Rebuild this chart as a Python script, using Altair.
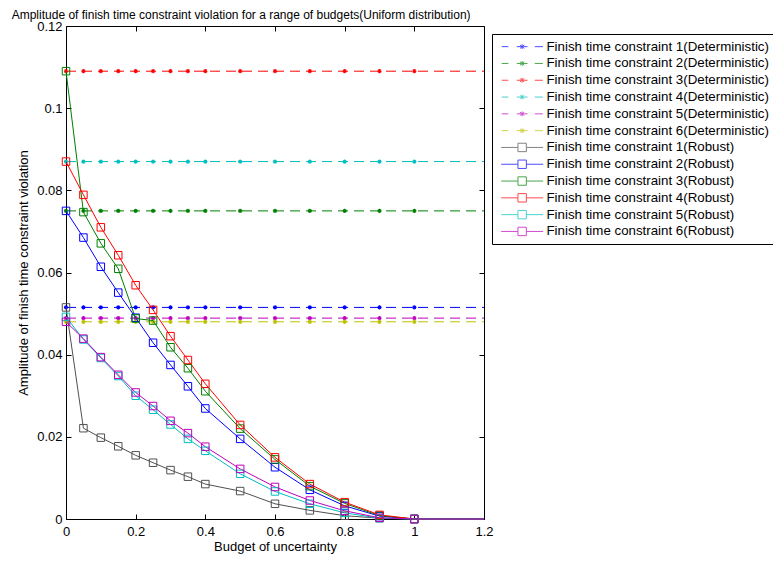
import altair as alt
import pandas as pd

FONT = "Liberation Sans"

# ---------------- data ----------------
budget = [0, 0.05, 0.1, 0.15, 0.2, 0.25, 0.3, 0.35, 0.4, 0.5, 0.6, 0.7, 0.8, 0.9, 1.0]
budget_end = 1.2

det_names = [f"Finish time constraint {i}(Deterministic)" for i in range(1, 7)]
det_values = [0.0515, 0.0750, 0.1090, 0.0870, 0.0489, 0.0480]

rob_names = [f"Finish time constraint {i}(Robust)" for i in range(1, 7)]
robust_1 = [0.0515, 0.0221, 0.0198, 0.0177, 0.0155, 0.0137, 0.0119, 0.0103, 0.0085, 0.0068, 0.0037, 0.0021, 0.0008, 0.0002, 0.0]
robust_2 = [0.0750, 0.0685, 0.0614, 0.0551, 0.0490, 0.0429, 0.0375, 0.0323, 0.0269, 0.0195, 0.0126, 0.0071, 0.0032, 0.0007, 0.0]
robust_3 = [0.1090, 0.0747, 0.0671, 0.0609, 0.0488, 0.0483, 0.0418, 0.0367, 0.0311, 0.0220, 0.0145, 0.0080, 0.0038, 0.0008, 0.0]
robust_4 = [0.0870, 0.0789, 0.0710, 0.0642, 0.0569, 0.0509, 0.0445, 0.0387, 0.0329, 0.0229, 0.0150, 0.0085, 0.0041, 0.0010, 0.0]
robust_5 = [0.0492, 0.0437, 0.0392, 0.0348, 0.0300, 0.0266, 0.0230, 0.0195, 0.0166, 0.0110, 0.0067, 0.0037, 0.0015, 0.0002, 0.0]
robust_6 = [0.0480, 0.0439, 0.0394, 0.0351, 0.0308, 0.0275, 0.0239, 0.0209, 0.0176, 0.0122, 0.0078, 0.0045, 0.0020, 0.0003, 0.0]
robust_values = [robust_1, robust_2, robust_3, robust_4, robust_5, robust_6]

det_colors = ["#0000ff", "#008000", "#ff0000", "#00bfbf", "#bf00bf", "#bfbf00"]
rob_colors = ["#505050", "#0000ff", "#008000", "#ff0000", "#00bfbf", "#bf00bf"]

x_ticks = [0, 0.2, 0.4, 0.6, 0.8, 1.0, 1.2]
y_ticks = [0, 0.02, 0.04, 0.06, 0.08, 0.1, 0.12]

# ---------------- tables ----------------
det_pts = pd.DataFrame([(n, b, v) for n, v in zip(det_names, det_values) for b in budget],
                       columns=["series", "budget", "value"])
det_line = pd.DataFrame([(n, b, v) for n, v in zip(det_names, det_values) for b in budget + [budget_end]],
                        columns=["series", "budget", "value"])
rob_pts = pd.DataFrame([(n, b, v) for n, vals in zip(rob_names, robust_values) for b, v in zip(budget, vals)],
                       columns=["series", "budget", "value"])
rob_line = pd.DataFrame([(n, b, v) for n, vals in zip(rob_names, robust_values)
                         for b, v in zip(budget + [budget_end], vals + [0.0])],
                        columns=["series", "budget", "value"])
# legend carrier: every series at the common end point (1.0, 0), drawn tiny
legend_df = pd.DataFrame({"series": det_names + rob_names,
                          "budget": [budget[-1]] * 12,
                          "value": [0.0] * 12})

all_names = det_names + rob_names
all_colors = det_colors + rob_colors

W, H = 418, 493

ASTER = "M-1,0H1M0,-1V1M-0.7,-0.7L0.7,0.7M-0.7,0.7L0.7,-0.7"
LEG_DET = "M-3.4,0H-2.3M-0.9,0H0.9M2.1,0H3.45M0,-0.4V0.4M-0.35,-0.28L0.35,0.28M-0.35,0.28L0.35,-0.28"
LEG_ROB = "M-3.5,0H-0.7M0.7,0H3.5M-0.7,-0.7H0.7V0.7H-0.7Z"
legend_shapes = [LEG_DET] * 6 + [LEG_ROB] * 6

x_scale = alt.Scale(domain=[0, 1.2], nice=False, zero=False)
y_scale = alt.Scale(domain=[0, 0.12], nice=False, zero=False)
# plotted strokes: same mapping, listed in reverse order (keeps this scale separate from the legend's)
stroke_scale = alt.Scale(domain=all_names[::-1], range=all_colors[::-1])

def tick_axis(orient, offset, values):
    return alt.Axis(orient=orient, offset=offset, values=values, labels=False, ticks=True,
                    tickSize=5, tickColor="black", domain=False, grid=False, title=None)

axis_bottom = alt.Axis(orient="bottom", values=x_ticks, format=".1~f", tickSize=0, labelPadding=6,
                       labelFlush=False, labelOverlap=False, domain=False, grid=False,
                       title="Budget of uncertainty", titlePadding=2)
axis_left = alt.Axis(orient="left", values=y_ticks, format=".2~f", tickSize=0, labelPadding=4,
                     labelOverlap=False, domain=False, grid=False,
                     title="Amplitude of finish time constraint violation", titlePadding=6)

stroke_enc = alt.Stroke("series:N", scale=stroke_scale, legend=None)

det_lines = alt.Chart(det_line).mark_line(strokeDash=[10, 6], strokeWidth=1).encode(
    x=alt.X("budget:Q", scale=x_scale, axis=axis_bottom),
    y=alt.Y("value:Q", scale=y_scale, axis=axis_left),
    stroke=stroke_enc,
)

det_points = alt.Chart(det_pts).mark_point(shape=ASTER, size=18, filled=False, strokeWidth=1.1, opacity=1).encode(
    x=alt.X("budget:Q", scale=x_scale, axis=tick_axis("top", -H, x_ticks)),
    y=alt.Y("value:Q", scale=y_scale, axis=tick_axis("right", -W, y_ticks)),
    stroke=stroke_enc,
)

rob_lines = alt.Chart(rob_line).mark_line(strokeWidth=1).encode(
    x=alt.X("budget:Q", scale=x_scale, axis=tick_axis("bottom", -H, x_ticks)),
    y=alt.Y("value:Q", scale=y_scale, axis=tick_axis("left", -W, y_ticks)),
    stroke=stroke_enc,
)

rob_points = alt.Chart(rob_pts).mark_point(shape="square", size=56, filled=False, strokeWidth=1, opacity=1).encode(
    x=alt.X("budget:Q", scale=x_scale, axis=None),
    y=alt.Y("value:Q", scale=y_scale, axis=None),
    stroke=stroke_enc,
)

leg = alt.Legend(orient="none", legendX=426, legendY=8, title=None, strokeColor="black",
                 fillColor="white", padding=6, symbolSize=144, symbolStrokeWidth=1,
                 symbolOffset=17.5, labelOffset=17.7, rowPadding=2.8, labelFontSize=13.3,
                 labelLimit=400, labelColor="black", cornerRadius=0)

legend_layer = alt.Chart(legend_df).mark_point(filled=False, size=1, strokeWidth=1).encode(
    x=alt.X("budget:Q", scale=x_scale, axis=None),
    y=alt.Y("value:Q", scale=y_scale, axis=None),
    color=alt.Color("series:N", scale=alt.Scale(domain=all_names, range=all_colors), legend=leg),
    shape=alt.Shape("series:N", scale=alt.Scale(domain=all_names, range=legend_shapes), legend=leg),
)

chart = alt.layer(det_lines, det_points, rob_lines, rob_points, legend_layer).resolve_axis(
    x="independent", y="independent"
).properties(
    width=W, height=H,
    autosize=alt.AutoSizeParams(type="none"),
    padding={"left": 58, "top": 18, "right": 289, "bottom": 35},
    title=alt.TitleParams(
        text="Amplitude of finish time constraint violation for a range of budgets(Uniform distribution)",
        anchor="start", dx=-6, dy=14, fontSize=12, fontWeight="normal", baseline="alphabetic",
        offset=3, font=FONT, color="black"),
).configure_view(stroke="black", strokeWidth=1).configure_axis(
    labelFont=FONT, titleFont=FONT, labelFontSize=13, titleFontSize=13,
    titleFontWeight="normal", labelColor="black", titleColor="black"
).configure_legend(labelFont=FONT)

chart.save("out.html", embed_options={"renderer": "svg", "actions": False})
